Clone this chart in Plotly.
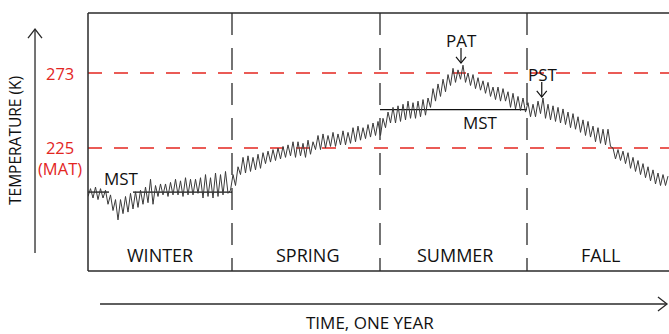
import plotly.graph_objects as go

# ---- data (temperature in K, one value per sample step along the year) ----
temps = [
    194, 199, 193, 200, 192, 199, 193, 198,
    189, 195, 185, 192, 179,
    192, 183, 194, 184, 196, 186, 197, 187, 198, 189, 200, 190,
    205, 189,
    201, 194, 202, 195, 202, 194, 203, 195, 205, 195, 204, 194, 206, 195, 205, 195, 205, 196,
    206, 193, 208, 194, 206, 193, 209, 194, 208, 195, 210, 196, 198,
    208, 201, 213,
    208, 219, 209, 220, 210, 219, 211, 221, 212, 222,
    215, 223, 216, 224, 217, 225, 218, 226, 219, 227, 220,
    229, 219, 229, 220, 228, 219, 230, 221, 229,
    224, 233, 224, 234, 225, 233, 226, 235, 226, 234, 227, 236, 227, 235,
    228, 238, 229, 239, 230, 238, 231, 240, 232, 241, 233, 242, 233,
    244, 238, 248, 241,
    251, 241, 252, 242, 253, 243,
    255, 244, 254, 244, 255, 245, 256, 246, 257,
    251, 263, 255, 266, 258, 269, 261, 272,
    265, 276, 267, 275, 269, 278, 267,
    273, 265, 272, 263, 270, 262, 268, 260, 267, 258,
    264, 256, 264, 255, 263, 255,
    261, 251, 260, 250, 258, 249, 257, 248,
    254, 245, 253, 245, 255, 247, 257,
    244, 253, 243, 252, 242, 251, 241, 250, 240, 248, 238, 247, 237, 245, 235, 243, 233, 242, 232,
    239, 229, 238, 228, 237, 227, 237, 226,
    225, 218, 224, 217, 223, 215, 222,
    212, 219, 210, 217, 208, 215, 206, 213, 204, 211,
    202, 209, 201, 208, 201, 207,
]
steps = list(range(len(temps)))

season_names = ["WINTER", "SPRING", "SUMMER", "FALL"]
season_label_x = [28.8, 87.6, 146.8, 204.8]
season_edges = [57.6, 116.8, 175.6]

ref_levels = [273, 225]
ref_labels = ["273", "225<br>(MAT)"]
ref_label_shift = [0, -10]

mst_winter = 196.8
mst_winter_segments = [(0, 8.4), (18, 57.6)]
mst_summer = 249.6
mst_summer_segments = [(116.8, 175.6)]

x_range = [0, 232.4]
y_range = [146.3, 311.4]

RED = "#e3261f"
INK = "#111111"
FONT = "Open Sans"

fig = go.Figure()
fig.add_trace(go.Scatter(
    x=steps, y=temps, mode="lines",
    line=dict(color="#3a3a3a", width=1),
    hoverinfo="skip", showlegend=False,
))

shapes = []
# frame (left, top, bottom)
for (x0, y0, x1, y1) in [(0, 0, 0, 1), (0, 1, 1, 1), (0, 0, 1, 0)]:
    shapes.append(dict(type="line", xref="paper", yref="paper", x0=x0, y0=y0, x1=x1, y1=y1,
                       line=dict(color="#2a2a2a", width=1.5)))
# red reference levels
for lv in ref_levels:
    shapes.append(dict(type="line", xref="paper", yref="y", x0=0, x1=1, y0=lv, y1=lv,
                       line=dict(color=RED, width=1.3, dash="14px,12px"), layer="below"))
# season dividers
for e in season_edges:
    shapes.append(dict(type="line", xref="x", yref="paper", x0=e, x1=e, y0=1, y1=0,
                       line=dict(color="#2a2a2a", width=1.3, dash="22px,13px"), layer="below"))
# MST levels
for (a, b) in mst_winter_segments:
    shapes.append(dict(type="line", xref="x", yref="y", x0=a, x1=b, y0=mst_winter, y1=mst_winter,
                       line=dict(color=INK, width=1.3), layer="below"))
for (a, b) in mst_summer_segments:
    shapes.append(dict(type="line", xref="x", yref="y", x0=a, x1=b, y0=mst_summer, y1=mst_summer,
                       line=dict(color=INK, width=1.3), layer="below"))

# PAT / PST arrows (open V heads)
def down_arrow(xc, ytop, ytip, dx, yarm):
    shapes.append(dict(type="line", xref="x", yref="y", x0=xc, x1=xc, y0=ytop, y1=ytip,
                       line=dict(color=INK, width=1.2)))
    shapes.append(dict(type="path", xref="x", yref="y",
                       path=f"M{xc-dx},{yarm} L{xc},{ytip} L{xc+dx},{yarm}",
                       line=dict(color=INK, width=1.2)))

down_arrow(149.2, 289.0, 279.4, 2.0, 283.3)
down_arrow(181.5, 267.2, 257.6, 2.0, 261.5)

# axis arrows (paper coords)
shapes.append(dict(type="line", xref="paper", yref="paper", x0=-0.0912, x1=-0.0912, y0=0.0698, y1=0.938,
                   line=dict(color="#2a2a2a", width=1.3)))
shapes.append(dict(type="path", xref="paper", yref="paper",
                   path="M-0.1033,0.903 L-0.0912,0.938 L-0.0792,0.903",
                   line=dict(color="#2a2a2a", width=1.3)))
shapes.append(dict(type="line", xref="paper", yref="paper", x0=0.0207, x1=0.9966, y0=-0.1279, y1=-0.1279,
                   line=dict(color="#2a2a2a", width=1.3)))
shapes.append(dict(type="path", xref="paper", yref="paper",
                   path="M0.981,-0.1008 L0.9966,-0.1279 L0.981,-0.155",
                   line=dict(color="#2a2a2a", width=1.3)))

def label(**kw):
    base = dict(showarrow=False, xanchor="center", yanchor="middle")
    base.update(kw)
    return base

annotations = []
for name, xl in zip(season_names, season_label_x):
    annotations.append(label(x=xl, y=0.062, xref="x", yref="paper", text=name,
                             font=dict(family=FONT, size=18, color=INK)))
for lv, lab, sh in zip(ref_levels, ref_labels, ref_label_shift):
    annotations.append(label(x=-0.0475, y=lv, yshift=sh, xref="paper", yref="y", text=lab,
                             font=dict(family=FONT, size=16.5, color=RED)))
annotations.append(label(x=13.4, y=205.2, xref="x", yref="y", text="MST",
                         font=dict(family=FONT, size=17, color=INK)))
annotations.append(label(x=157.0, y=241.6, xref="x", yref="y", text="MST",
                         font=dict(family=FONT, size=17, color=INK)))
annotations.append(label(x=149.4, y=294.1, xref="x", yref="y", text="PAT",
                         font=dict(family=FONT, size=17, color=INK)))
annotations.append(label(x=182.0, y=271.8, xref="x", yref="y", text="PST",
                         font=dict(family=FONT, size=17, color=INK)))
annotations.append(label(x=-0.1256, y=0.504, xref="paper", yref="paper", text="TEMPERATURE (K)",
                         textangle=-90, font=dict(family=FONT, size=15.5, color=INK)))
annotations.append(label(x=0.4854, y=-0.1977, xref="paper", yref="paper", text="TIME, ONE YEAR",
                         font=dict(family=FONT, size=17, color=INK)))

fig.update_layout(
    width=669, height=334,
    margin=dict(l=88, r=0, t=13, b=63),
    paper_bgcolor="white", plot_bgcolor="white",
    xaxis=dict(range=x_range, visible=False, fixedrange=True),
    yaxis=dict(range=y_range, visible=False, fixedrange=True),
    shapes=shapes, annotations=annotations,
    showlegend=False,
)

fig.write_html("out.html", config={"displayModeBar": False},
               post_script="document.body.style.margin='0';document.body.style.overflow='hidden';")
